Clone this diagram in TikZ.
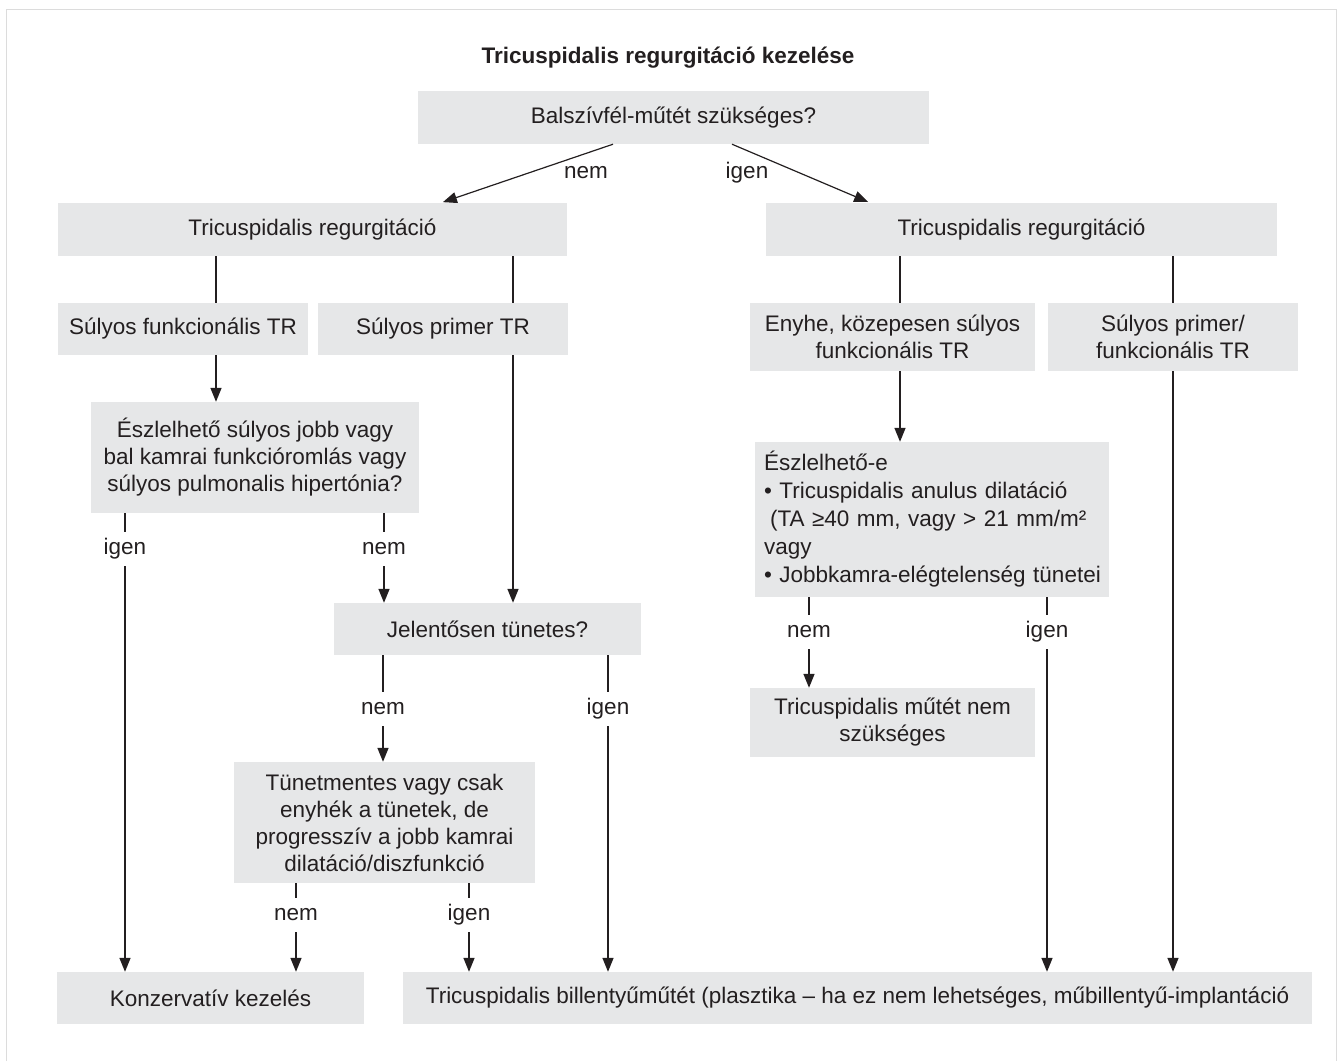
\documentclass[tikz,border=0pt]{standalone}
\usepackage{fontspec}
\setmainfont{Liberation Sans}
\usetikzlibrary{arrows.meta}
\definecolor{boxgray}{HTML}{E6E7E8}
\definecolor{ink}{HTML}{231F20}
\definecolor{framegray}{HTML}{DCDCDC}
\newcommand\myfs{\fontsize{22.5}{27}\selectfont}
\tikzset{
  fbox/.style 2 args={fill=boxgray, text=ink, minimum width=#1, minimum height=#2,
    align=center, inner sep=0pt, font=\myfs},
  lbl/.style={font=\myfs, text=ink, inner sep=0pt, minimum height=34pt,
    text height=16pt, text depth=5pt},
  ln/.style={draw=ink, line width=1.5pt},
  ar/.style={ln, -{Triangle[length=14pt,width=11pt]}},
  diag/.style={draw=ink, line width=1.2pt, -{Triangle[length=14pt,width=11pt]}},
}
\begin{document}
\begin{tikzpicture}[x=1pt,y=-1pt]
\useasboundingbox (0,0) rectangle (1337,1061);
\draw[framegray, line width=1pt] (6.5,1061) -- (6.5,9.5) -- (1336,9.5) -- (1336,1061);

\node[font=\myfs\bfseries, text=ink] (title) at (668,58) {Tricuspidalis regurgitáció kezelése};

\node[fbox={511}{53}] (q1) at (673.5,117.5) {Balszívfél-műtét szükséges?};
\node[fbox={509}{53}] (trL) at (312.5,229.5) {Tricuspidalis regurgitáció};
\node[fbox={511}{53}] (trR) at (1021.5,229.5) {Tricuspidalis regurgitáció};
\node[fbox={250}{52}] (sf) at (183,329) {Súlyos funkcionális TR};
\node[fbox={250}{52}] (sp) at (443,329) {Súlyos primer TR};
\node[fbox={285}{68}] (eny) at (892.5,337) {Enyhe, közepesen súlyos\\funkcionális TR};
\node[fbox={250}{68}] (spf) at (1173,337) {Súlyos primer/\\funkcionális TR};
\node[fbox={328}{111}] (esz) at (255,457.5) {Észlelhető súlyos jobb vagy\\bal kamrai funkcióromlás vagy\\súlyos pulmonalis hipertónia?};
\node[fbox={307}{52}] (jel) at (487.5,629) {Jelentősen tünetes?};
\node[fbox={354}{155}, align=left, text width=336pt, font=\fontsize{22.5}{28}\selectfont] (esze) at (932,519.5)
  {Észlelhető-e\\• Tricuspidalis anulus dilatáció\\\hspace*{6pt}(TA ≥40 mm, vagy > 21 mm/m²\\vagy\\\makebox[336pt][l]{• Jobbkamra-elégtelenség tünetei}};
\node[fbox={285}{69}] (nsz) at (892.5,722.5) {Tricuspidalis műtét nem\\szükséges};
\node[fbox={301}{121}] (tun) at (384.5,822.5) {Tünetmentes vagy csak\\enyhék a tünetek, de\\progresszív a jobb kamrai\\dilatáció/diszfunkció};
\node[fbox={307}{52}] (konz) at (210.5,998) {Konzervatív kezelés};
\node[fbox={909}{52}] (bot) at (857.5,998) {Tricuspidalis billentyűműtét (plasztika – ha ez nem lehetséges, műbillentyű-implantáció};

% column positions
\coordinate (x216) at (216,0);
\coordinate (x513) at (513,0);
\coordinate (x900) at (900,0);
\coordinate (x1173) at (1173,0);

% top split
\node[lbl] (ln0) at (586,173) {nem};
\node[lbl] (li0) at (747,173) {igen};
\draw[diag, shorten >=2pt] ([xshift=-60.5pt]q1.south) -- ([xshift=128.5pt]trL.north);
\draw[diag, shorten >=2pt] ([xshift=58.5pt]q1.south) -- ([xshift=-151.5pt]trR.north);

\draw[ln] (trL.south -| x216) -- (sf.north -| x216);
\draw[ar] (sf.south -| x216) -- (esz.north -| x216);
\draw[ln] (trL.south -| x513) -- (sp.north -| x513);
\draw[ar] (sp.south -| x513) -- (jel.north -| x513);
\draw[ln] (trR.south -| x900) -- (eny.north -| x900);
\draw[ar] (eny.south -| x900) -- (esze.north -| x900);
\draw[ln] (trR.south -| x1173) -- (spf.north -| x1173);
\draw[ar] (spf.south -| x1173) -- (bot.north -| x1173);

% labelled branches
\node[lbl] (l1) at (125,549) {igen};
\draw[ln] (esz.south -| l1) -- (l1);
\draw[ar] (l1) -- (konz.north -| l1);
\node[lbl] (l2) at (384,549) {nem};
\draw[ln] (esz.south -| l2) -- (l2);
\draw[ar] (l2) -- (jel.north -| l2);

\node[lbl] (l3) at (383,709) {nem};
\draw[ln] (jel.south -| l3) -- (l3);
\draw[ar] (l3) -- (tun.north -| l3);
\node[lbl] (l4) at (608,709) {igen};
\draw[ln] (jel.south -| l4) -- (l4);
\draw[ar] (l4) -- (bot.north -| l4);

\node[lbl] (l5) at (296,915) {nem};
\draw[ln] (tun.south -| l5) -- (l5);
\draw[ar] (l5) -- (konz.north -| l5);
\node[lbl] (l6) at (469,915) {igen};
\draw[ln] (tun.south -| l6) -- (l6);
\draw[ar] (l6) -- (bot.north -| l6);

\node[lbl] (l7) at (809,632) {nem};
\draw[ln] (esze.south -| l7) -- (l7);
\draw[ar] (l7) -- (nsz.north -| l7);
\node[lbl] (l8) at (1047,632) {igen};
\draw[ln] (esze.south -| l8) -- (l8);
\draw[ar] (l8) -- (bot.north -| l8);
\end{tikzpicture}
\end{document}
